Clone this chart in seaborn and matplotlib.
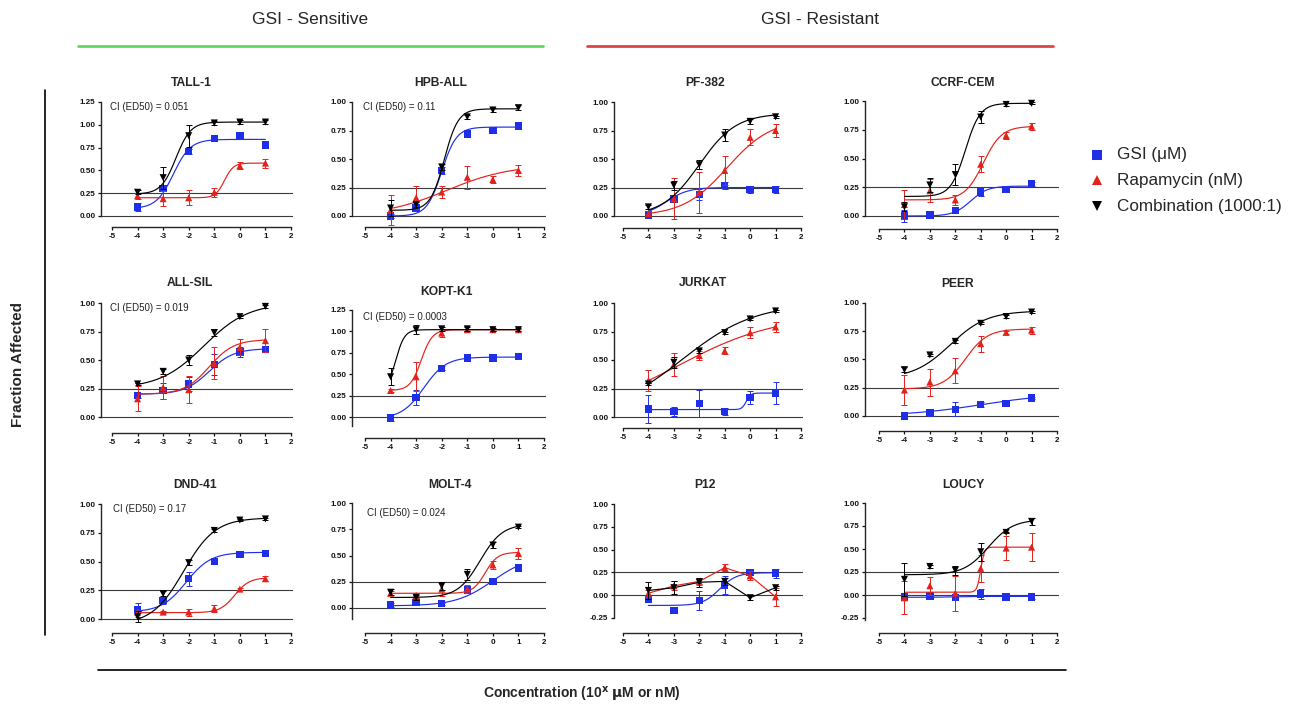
import numpy as np
import matplotlib
matplotlib.use("Agg")
import matplotlib.pyplot as plt
from matplotlib.lines import Line2D
import seaborn as sns

sns.set_style("ticks")
plt.rcParams['font.family'] = ['Liberation Sans', 'DejaVu Sans']
plt.rcParams['axes.unicode_minus'] = False

# ---------------- data ----------------
x_log = [-4, -3, -2, -1, 0, 1]
cell_lines = ["TALL-1", "HPB-ALL", "PF-382", "CCRF-CEM",
              "ALL-SIL", "KOPT-K1", "JURKAT", "PEER",
              "DND-41", "MOLT-4", "P12", "LOUCY"]
ci_labels = ["CI (ED50) = 0.051", "CI (ED50) = 0.11", None, None,
             "CI (ED50) = 0.019", "CI (ED50) = 0.0003", None, None,
             "CI (ED50) = 0.17", "CI (ED50) = 0.024", None, None]

gsi_mean = [[0.10, 0.30, 0.71, 0.85, 0.88, 0.78],
            [0.00, 0.07, 0.40, 0.72, 0.75, 0.79],
            [0.01, 0.15, 0.19, 0.27, 0.23, 0.23],
            [0.00, 0.01, 0.05, 0.21, 0.23, 0.28],
            [0.19, 0.23, 0.29, 0.46, 0.57, 0.59],
            [-0.01, 0.23, 0.57, 0.69, 0.69, 0.71],
            [0.07, 0.05, 0.12, 0.05, 0.17, 0.21],
            [0.00, 0.03, 0.06, 0.10, 0.11, 0.16],
            [0.08, 0.16, 0.35, 0.50, 0.56, 0.57],
            [0.03, 0.05, 0.04, 0.17, 0.25, 0.38],
            [-0.05, -0.17, -0.06, 0.11, 0.25, 0.24],
            [-0.02, -0.01, -0.03, 0.01, -0.02, -0.02]]
gsi_err = [[0.04, 0.03, 0.03, 0.02, 0.02, 0.02],
           [0.02, 0.02, 0.03, 0.02, 0.02, 0.02],
           [0.02, 0.03, 0.05, 0.03, 0.03, 0.03],
           [0.05, 0.02, 0.02, 0.04, 0.01, 0.02],
           [0.02, 0.07, 0.06, 0.09, 0.04, 0.02],
           [0.04, 0.09, 0.02, 0.02, 0.02, 0.02],
           [0.12, 0.04, 0.12, 0.03, 0.06, 0.10],
           [0.01, 0.03, 0.06, 0.02, 0.01, 0.01],
           [0.06, 0.03, 0.06, 0.01, 0.01, 0.01],
           [0.02, 0.02, 0.01, 0.02, 0.01, 0.01],
           [0.02, 0.01, 0.10, 0.10, 0.03, 0.05],
           [0.02, 0.02, 0.02, 0.05, 0.02, 0.02]]
rapa_mean = [[0.22, 0.19, 0.20, 0.26, 0.55, 0.58],
             [0.05, 0.16, 0.21, 0.34, 0.32, 0.40],
             [0.02, 0.15, 0.21, 0.40, 0.69, 0.75],
             [0.10, 0.22, 0.14, 0.45, 0.70, 0.78],
             [0.16, 0.26, 0.24, 0.47, 0.61, 0.67],
             [0.31, 0.47, 0.98, 1.02, 1.02, 1.02],
             [0.32, 0.46, 0.54, 0.58, 0.74, 0.79],
             [0.23, 0.30, 0.40, 0.64, 0.74, 0.76],
             [0.06, 0.06, 0.06, 0.09, 0.26, 0.35],
             [0.14, 0.12, 0.18, 0.18, 0.41, 0.52],
             [0.02, 0.10, 0.15, 0.30, 0.21, -0.02],
             [-0.03, 0.10, 0.02, 0.29, 0.51, 0.52]]
rapa_err = [[0.03, 0.08, 0.08, 0.05, 0.04, 0.05],
            [0.13, 0.10, 0.05, 0.10, 0.03, 0.05],
            [0.02, 0.18, 0.18, 0.13, 0.07, 0.06],
            [0.13, 0.10, 0.04, 0.07, 0.03, 0.03],
            [0.11, 0.10, 0.12, 0.14, 0.07, 0.10],
            [0.02, 0.17, 0.05, 0.01, 0.01, 0.01],
            [0.09, 0.10, 0.04, 0.03, 0.05, 0.04],
            [0.13, 0.12, 0.11, 0.07, 0.01, 0.03],
            [0.01, 0.01, 0.03, 0.03, 0.01, 0.02],
            [0.02, 0.02, 0.07, 0.04, 0.04, 0.05],
            [0.04, 0.05, 0.04, 0.04, 0.05, 0.10],
            [0.18, 0.10, 0.19, 0.15, 0.13, 0.15]]
combo_mean = [[0.26, 0.42, 0.88, 1.02, 1.03, 1.03],
              [0.07, 0.10, 0.43, 0.87, 0.93, 0.95],
              [0.08, 0.27, 0.45, 0.71, 0.83, 0.87],
              [0.08, 0.27, 0.36, 0.86, 0.97, 0.98],
              [0.29, 0.40, 0.50, 0.74, 0.88, 0.97],
              [0.47, 1.02, 1.03, 1.03, 1.02, 1.02],
              [0.29, 0.48, 0.58, 0.74, 0.86, 0.93],
              [0.41, 0.54, 0.66, 0.82, 0.88, 0.92],
              [0.02, 0.22, 0.49, 0.77, 0.86, 0.87],
              [0.15, 0.10, 0.21, 0.32, 0.60, 0.77],
              [0.05, 0.08, 0.14, 0.15, -0.03, 0.08],
              [0.17, 0.31, 0.27, 0.47, 0.68, 0.80]]
combo_err = [[0.02, 0.12, 0.12, 0.02, 0.02, 0.02],
             [0.07, 0.02, 0.03, 0.02, 0.02, 0.02],
             [0.02, 0.04, 0.04, 0.05, 0.02, 0.01],
             [0.04, 0.06, 0.09, 0.05, 0.01, 0.01],
             [0.01, 0.02, 0.04, 0.03, 0.01, 0.01],
             [0.10, 0.05, 0.02, 0.02, 0.02, 0.02],
             [0.01, 0.05, 0.02, 0.01, 0.01, 0.01],
             [0.02, 0.01, 0.01, 0.01, 0.01, 0.01],
             [0.05, 0.02, 0.02, 0.01, 0.01, 0.01],
             [0.03, 0.02, 0.04, 0.05, 0.03, 0.01],
             [0.09, 0.07, 0.05, 0.04, 0.03, 0.02],
             [0.18, 0.02, 0.05, 0.10, 0.01, 0.04]]

# fitted dose-response parameters (bottom, top, logEC50, hill); None = point-to-point
gsi_fit = [(0.08, 0.84, -2.6, 1.3), (0.0, 0.78, -2.0, 1.5), (0.0, 0.25, -3.3, 1.0),
           (0.0, 0.26, -1.4, 1.3), (0.2, 0.60, -1.2, 0.9), (-0.02, 0.70, -2.7, 1.0),
           (0.065, 0.21, -0.15, 5.0), (0.0, 0.20, -1.0, 0.3), (0.06, 0.58, -2.1, 0.9),
           (0.02, 0.50, 0.0, 0.6), (-0.115, 0.245, -1.2, 1.3), (-0.025, -0.015, -2.0, 1.0)]
rapa_fit = [(0.20, 0.58, -0.6, 2.5), (0.0, 0.45, -1.8, 0.35), (0.0, 0.85, -0.9, 0.5),
            (0.14, 0.78, -0.9, 1.2), (0.2, 0.68, -1.2, 0.9), (0.31, 1.02, -2.8, 2.0),
            (0.0, 0.90, -2.84, 0.223), (0.24, 0.77, -1.6, 1.0), (0.055, 0.36, -0.2, 1.5),
            (0.14, 0.53, -0.3, 1.8), None, (0.03, 0.52, -1.0, 6.0)]
combo_fit = [(0.24, 1.03, -2.5, 1.5), (0.05, 0.94, -1.9, 1.6), (0.0, 0.90, -2.0, 0.6),
             (0.17, 0.98, -1.6, 1.5), (0.25, 1.00, -1.4, 0.5), (0.30, 1.02, -3.8, 2.5),
             (0.0, 1.00, -2.7, 0.30), (0.33, 0.93, -2.2, 0.6), (-0.05, 0.88, -2.2, 0.7),
             (0.10, 0.80, -0.5, 1.0), None, (0.22, 0.82, -0.7, 0.9)]

legend_labels = ["GSI (\u03bcM)", "Rapamycin (nM)", "Combination (1000:1)"]

# ---------------- layout (pixels) ----------------
W, H = 1299, 707
col_spine = [101, 352, 614, 865]
col_m5 = [112, 365, 623, 879]
col_p2 = [291, 544, 801, 1057]
top_px = [102, 102, 102, 101, 303, 310, 303, 303, 504, 503, 504, 503]
zero_px = [216, 216, 216, 216, 417, 417, 417, 416, 619, 608, 595, 595]
xaxis_px = [227, 227, 228, 229, 433, 438, 428, 431, 633, 633, 633, 633]
top_val = [1.25, 1, 1, 1, 1, 1.25, 1, 1, 1, 1, 1, 1]
low_tick = [0, 0, 0, 0, 0, 0, 0, 0, 0, 0, -0.25, -0.25]
spine_low = [0, 0, 0, 0, 0, -0.1, 0, 0, 0, -0.1, -0.25, -0.27]
title_xy = [(191, 83), (441, 83), (705, 83), (963, 83),
            (190, 283), (447, 292), (703, 283), (958, 284),
            (195, 485), (450, 485), (705, 485), (963, 485)]
ci_xy = [(110, 107), (363, 107), None, None,
         (110, 308), (363, 317), None, None,
         (113, 509), (367, 513), None, None]

C_GSI = "#1f2fe8"
C_RAPA = "#e3221c"
C_COMBO = "#000000"


def fx(px):
    return px / W


def fy(py):
    return 1 - py / H


def logistic(xs, p):
    b, t, x50, h = p
    return b + (t - b) / (1 + 10 ** ((x50 - xs) * h))


fig = plt.figure(figsize=(W / 100, H / 100), dpi=100)

xs_fine = np.linspace(-4, 1, 200)

for i, name in enumerate(cell_lines):
    c = i % 4
    spine, m5, p2 = col_spine[c], col_m5[c], col_p2[c]
    ppu_x = (p2 - m5) / 7.0
    xlo = -5 - (m5 - spine) / ppu_x
    xhi = 2.08
    right_px = p2 + 0.08 * ppu_x
    ppu_y = (zero_px[i] - top_px[i]) / top_val[i]
    ylo = -(xaxis_px[i] - zero_px[i]) / ppu_y
    ax = fig.add_axes([fx(spine), fy(xaxis_px[i]), (right_px - spine) / W,
                       (xaxis_px[i] - top_px[i]) / H])
    ax.set_xlim(xlo, xhi)
    ax.set_ylim(ylo, top_val[i])

    ax.axhline(0, color="#3a3a3a", lw=0.8, zorder=1)
    ax.axhline(0.25, color="#3a3a3a", lw=0.8, zorder=1)

    series = [(gsi_mean[i], gsi_err[i], gsi_fit[i], C_GSI, "s", 28),
              (rapa_mean[i], rapa_err[i], rapa_fit[i], C_RAPA, "^", 26),
              (combo_mean[i], combo_err[i], combo_fit[i], C_COMBO, "v", 26)]
    for z, (ym, ye, fit, col, mk, sz) in enumerate(series):
        zb = 3 + z * 3
        ax.errorbar(x_log, ym, yerr=ye, fmt="none", ecolor=col, elinewidth=0.7,
                    capsize=2.2, capthick=0.7, zorder=zb, clip_on=False)
        if fit is None:
            sns.lineplot(x=x_log, y=ym, ax=ax, color=col, lw=0.85, zorder=zb + 1,
                         estimator=None, sort=False)
        else:
            sns.lineplot(x=xs_fine, y=logistic(xs_fine, fit), ax=ax, color=col,
                         lw=0.85, zorder=zb + 1, estimator=None)
        sns.scatterplot(x=x_log, y=ym, ax=ax, color=col, marker=mk, s=sz,
                        edgecolor="none", linewidth=0, zorder=zb + 2, clip_on=False)

    ax.set_xticks(range(-5, 3))
    ax.set_xticklabels([str(v) for v in range(-5, 3)])
    yt = np.arange(low_tick[i], top_val[i] + 1e-9, 0.25)
    ax.set_yticks(yt)
    ax.set_yticklabels([f"{v:.2f}" for v in yt])
    ax.tick_params(axis="both", labelsize=5.8, length=2.5, width=0.9, pad=1.5,
                   colors="#111111")
    for lab in ax.get_xticklabels() + ax.get_yticklabels():
        lab.set_fontweight("bold")
    for s in ["top", "right"]:
        ax.spines[s].set_visible(False)
    ax.spines["left"].set_bounds(spine_low[i], top_val[i])
    ax.spines["bottom"].set_bounds(-5, 2)
    ax.spines["left"].set_linewidth(1.0)
    ax.spines["bottom"].set_linewidth(1.0)
    ax.set_xlabel("")
    ax.set_ylabel("")

    tx, ty = title_xy[i]
    fig.text(fx(tx), fy(ty), name, ha="center", va="center", fontsize=8.7,
             fontweight="bold")
    if ci_labels[i] is not None:
        cx, cy = ci_xy[i]
        fig.text(fx(cx), fy(cy), ci_labels[i], ha="left", va="center",
                 fontsize=7, color="#222222")

# headers
fig.text(fx(310), fy(20), "GSI - Sensitive", ha="center", va="center", fontsize=12.5)
fig.text(fx(820), fy(20), "GSI - Resistant", ha="center", va="center", fontsize=12.5)
fig.add_artist(Line2D([fx(78), fx(543)], [fy(46), fy(46)], color="#5fd85f", lw=2))
fig.add_artist(Line2D([fx(587), fx(1053)], [fy(46), fy(46)], color="#e04545", lw=2))

# frame lines and axis titles
fig.add_artist(Line2D([fx(45), fx(45)], [fy(90), fy(635)], color="black", lw=1.2))
fig.add_artist(Line2D([fx(98), fx(1066)], [fy(670), fy(670)], color="black", lw=1.2))
fig.text(fx(18), fy(365), "Fraction Affected", rotation=90, ha="center",
         va="center", fontsize=11, fontweight="bold")
fig.text(fx(582), fy(695), r"Concentration (10$^{\mathbf{x}}$ $\mathbf{\mu}$M or nM)",
         ha="center", va="center", fontsize=10, fontweight="bold")

# legend
leg_y = [155, 180, 206]
leg_m = [("s", C_GSI, 7.5), ("^", C_RAPA, 7.5), ("v", C_COMBO, 7.5)]
for (mk, col, ms), yy, lab in zip(leg_m, leg_y, legend_labels):
    fig.add_artist(Line2D([fx(1097)], [fy(yy)], marker=mk, color=col,
                          markersize=ms, linestyle="none", markeredgewidth=0))
    fig.text(fx(1117), fy(yy), lab, ha="left", va="center", fontsize=12.3)

fig.savefig("out.png", dpi=100)
